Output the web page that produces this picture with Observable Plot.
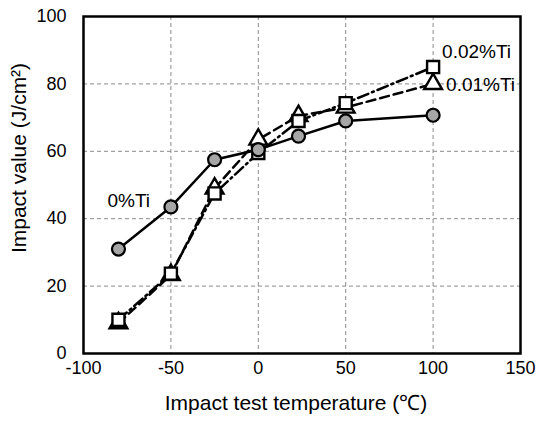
<!DOCTYPE html>
<html>
<head>
<meta charset="utf-8">
<script src="https://cdn.jsdelivr.net/npm/d3@7"></script>
<script src="https://cdn.jsdelivr.net/npm/@observablehq/plot@0.6"></script>
<style>
  html, body { margin: 0; padding: 0; background: #fff; }
</style>
</head>
<body>
<div id="chart"></div>
<script>
// Data
const temps = [-80, -50, -25, 0, 23, 50, 100];
const ti0   = [31, 43.5, 57.5, 60.5, 64.5, 69, 70.7];
const ti001 = [9, 23.3, 49, 63.5, 70.5, 73, 80];
const ti002 = [10, 23.7, 47.5, 59.5, 69, 74.3, 85];
const seriesNames = ["0%Ti", "0.01%Ti", "0.02%Ti"];
const xTicks = [-100, -50, 0, 50, 100, 150];
const yTicks = [0, 20, 40, 60, 80, 100];
const xTitle = "Impact test temperature (℃)";
const yTitle = "Impact value (J/cm²)";

const rows = [];
[ti0, ti001, ti002].forEach((vals, i) => {
  temps.forEach((t, j) => rows.push({series: seriesNames[i], t, v: vals[j]}));
});
const s0 = rows.filter(d => d.series === "0%Ti");
const s1 = rows.filter(d => d.series === "0.01%Ti");
const s2 = rows.filter(d => d.series === "0.02%Ti");

const chart = Plot.plot({
  width: 537,
  height: 421,
  marginLeft: 83,
  marginRight: 17,
  marginTop: 16,
  marginBottom: 68,
  style: {fontFamily: "'Liberation Sans', Arial, sans-serif", fontSize: "18px", color: "#000", background: "#fff"},
  x: {domain: [-100, 150]},
  y: {domain: [0, 100]},
  marks: [
    Plot.gridX(xTicks.slice(1, -1), {stroke: "#8a8a8a", strokeOpacity: 1, strokeWidth: 1, strokeDasharray: "4,3"}),
    Plot.gridY(yTicks.slice(1, -1), {stroke: "#8a8a8a", strokeOpacity: 1, strokeWidth: 1, strokeDasharray: "4,3"}),
    Plot.axisX({ticks: xTicks, tickSize: 0, tickPadding: 8, label: null, fontSize: 18, tickFormat: d => String(d)}),
    Plot.axisY({ticks: yTicks, tickSize: 0, tickPadding: 17, label: null, fontSize: 18, tickFormat: d => String(d)}),
    Plot.line(s1, {x: "t", y: "v", stroke: "#000", strokeWidth: 2.5, strokeDasharray: "9,5"}),
    Plot.line(s2, {x: "t", y: "v", stroke: "#000", strokeWidth: 2.5, strokeDasharray: "11,4,2,4"}),
    Plot.line(s0, {x: "t", y: "v", stroke: "#000", strokeWidth: 2.5}),
    Plot.dot(s1, {x: "t", y: "v", symbol: "triangle", r: 6.6, fill: "#fff", stroke: "#000", strokeWidth: 2.4}),
    Plot.dot(s2, {x: "t", y: "v", symbol: "square", r: 6.8, fill: "#fff", stroke: "#000", strokeWidth: 2.4}),
    Plot.dot(s0, {x: "t", y: "v", symbol: "circle", r: 6.5, fill: "#a6a6a6", stroke: "#000", strokeWidth: 2.2}),
    Plot.frame({stroke: "#000", strokeWidth: 2.5}),
    Plot.text(s0.slice(0, 1), {x: "t", y: "v", text: d => d.series, dx: -11, dy: -48, textAnchor: "start", fontSize: 19}),
    Plot.text(s1.slice(-1), {x: "t", y: "v", text: d => d.series, dx: 13, dy: 1, textAnchor: "start", fontSize: 19}),
    Plot.text(s2.slice(-1), {x: "t", y: "v", text: d => d.series, dx: 9, dy: -15, textAnchor: "start", fontSize: 19}),
    Plot.text([xTitle], {frameAnchor: "bottom", dx: -6, dy: 56, fontSize: 21, textAnchor: "middle"}),
    Plot.text([yTitle], {frameAnchor: "left", dx: -64, dy: -27, rotate: -90, fontSize: 21, textAnchor: "middle"})
  ]
});
document.getElementById("chart").appendChild(chart);
</script>
</body>
</html>
